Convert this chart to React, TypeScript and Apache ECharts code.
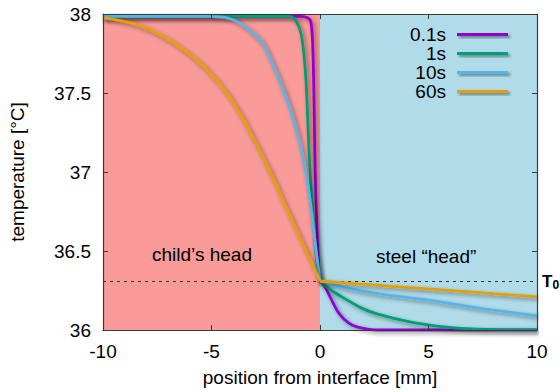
import React, { useEffect, useRef } from 'react';
import * as echarts from 'echarts';

// ---- data ----
const seriesNames = ['0.1s', '1s', '10s', '60s'];

const x01 = [-10, -0.9, -0.55, -0.42, -0.34, -0.28, -0.22, -0.13, -0.05, 0, 0.2, 0.5, 0.8, 1.1, 1.5, 2.0, 2.6, 10];
const y01 = [37.985, 37.985, 37.975, 37.95, 37.82, 37.5, 37.0, 36.6, 36.38, 36.31, 36.28, 36.2, 36.12, 36.07, 36.03, 36.01, 36.0, 36.0];

const x1 = [-10, -1.4, -1.08, -0.85, -0.66, -0.5, -0.35, -0.2, 0, 0.53, 1.13, 1.9, 2.66, 4.19, 5.71, 7.24, 10];
const y1 = [37.985, 37.985, 37.95, 37.86, 37.61, 37.12, 36.78, 36.5, 36.31, 36.25, 36.2, 36.14, 36.1, 36.05, 36.02, 36.005, 36.0];

const x10 = [-10, -5.2, -4.13, -3.36, -2.68, -2.3, -1.61, -1.0, -0.54, -0.16, 0, 1.13, 2.66, 4.95, 7.24, 10];
const y10 = [37.985, 37.985, 37.97, 37.91, 37.82, 37.72, 37.49, 37.22, 36.9, 36.48, 36.31, 36.27, 36.23, 36.19, 36.14, 36.09];

const x60 = [-10, -8.5, -7, -5.7, -4.7, -3.9, -3.14, -2.37, -1.61, -0.85, 0, 2, 5, 7.5, 10];
const y60 = [37.975, 37.935, 37.84, 37.71, 37.57, 37.42, 37.23, 37.02, 36.79, 36.56, 36.31, 36.29, 36.26, 36.235, 36.21];

const xValues = [x01, x1, x10, x60];
const yValues = [y01, y1, y10, y60];

const T0 = 36.31;
const xRange = [-10, 10];
const yRange = [36, 38];
const regionLabels = ['child\u2019s head', 'steel \u201chead\u201d'];

// ---- styles ----
const lineColors = ['#9400d3', '#009e73', '#56b4e9', '#e69f00'];
const FONT = '"Liberation Sans", Arial, Helvetica, sans-serif';
const AXIS_COLOR = '#3a3a3a';

export default function App() {
  const ref = useRef<HTMLDivElement>(null);

  useEffect(() => {
    if (!ref.current) return;
    const chart = echarts.init(ref.current, undefined, { renderer: 'svg' });

    const shadow = {
      shadowColor: 'rgba(0,0,0,0.45)',
      shadowBlur: 4,
      shadowOffsetX: 2,
      shadowOffsetY: 2,
    };

    const lineSeries: any[] = [];
    seriesNames.forEach((name, i) => {
      const pts = xValues[i].map((x, j) => [x, yValues[i][j]]);
      const left = pts.filter((p) => p[0] <= 0);
      const right = pts.filter((p) => p[0] >= 0);
      [left, right].forEach((part) => {
        lineSeries.push({
          name,
          type: 'line',
          data: part,
          color: lineColors[i],
          showSymbol: false,
          smooth: 0.3,
          clip: false,
          z: 3,
          lineStyle: { width: 2.8, color: lineColors[i], ...shadow },
        });
      });
    });

    const axisCommon = {
      type: 'value' as const,
      z: 10,
      axisLine: { show: true, onZero: false, lineStyle: { color: AXIS_COLOR, width: 1.2 } },
      axisTick: { show: true, inside: true, length: 5, lineStyle: { color: AXIS_COLOR } },
      splitLine: { show: false },
    };

    chart.setOption({
      animation: false,
      backgroundColor: '#ffffff',
      grid: { left: 100, right: 23, top: 14, bottom: 59 },
      textStyle: { fontFamily: FONT },
      legend: {
        orient: 'vertical',
        right: 47,
        top: 20,
        align: 'right',
        icon: 'rect',
        itemWidth: 51,
        itemHeight: 3,
        itemGap: 0,
        data: seriesNames,
        textStyle: { fontFamily: FONT, fontSize: 19, color: '#000', lineHeight: 19, padding: [0, 6, 0, 0] },
        itemStyle: { ...shadow, shadowBlur: 3 },
      },
      xAxis: [
        {
          ...axisCommon,
          min: xRange[0],
          max: xRange[1],
          interval: 5,
          position: 'bottom',
          name: 'position from interface [mm]',
          nameLocation: 'middle',
          nameGap: 38,
          nameTextStyle: { fontFamily: FONT, fontSize: 19, color: '#000' },
          axisLabel: { fontFamily: FONT, fontSize: 19, color: '#000', margin: 12 },
        },
        {
          ...axisCommon,
          min: xRange[0],
          max: xRange[1],
          interval: 5,
          position: 'top',
          axisLabel: { show: false },
        },
      ],
      yAxis: [
        {
          ...axisCommon,
          min: yRange[0],
          max: yRange[1],
          interval: 0.5,
          position: 'left',
          name: 'temperature [\u00b0C]',
          nameLocation: 'middle',
          nameGap: 76,
          nameTextStyle: { fontFamily: FONT, fontSize: 19, color: '#000' },
          axisLabel: { fontFamily: FONT, fontSize: 19, color: '#000', margin: 12 },
        },
        {
          ...axisCommon,
          min: yRange[0],
          max: yRange[1],
          interval: 0.5,
          position: 'right',
          axisLabel: { show: false },
        },
      ],
      series: [
        {
          type: 'line',
          data: [],
          z: 1,
          silent: true,
          markArea: {
            silent: true,
            z: 1,
            data: [
              [
                { xAxis: xRange[0], itemStyle: { color: '#f99b98' } },
                { xAxis: 0 },
              ],
              [
                { xAxis: 0, itemStyle: { color: '#b0dcea' } },
                { xAxis: xRange[1] },
              ],
            ],
          },
          markLine: {
            silent: true,
            symbol: 'none',
            z: 2,
            lineStyle: { color: '#333', type: [3, 4], width: 1 },
            label: {
              show: true,
              position: 'end',
              distance: 5,
              formatter: '{t|T}{s|0}',
              rich: {
                t: { fontFamily: FONT, fontSize: 17, fontWeight: 'bold', color: '#000' },
                s: { fontFamily: FONT, fontSize: 12, fontWeight: 'bold', color: '#000', padding: [8, 0, 0, 0] },
              },
            },
            data: [{ yAxis: T0 }],
          },
        },
        ...lineSeries,
      ],
      graphic: [
        {
          type: 'text',
          left: 152,
          top: 245,
          z: 5,
          style: { text: regionLabels[0], font: `19px ${FONT}`, fill: '#000' },
        },
        {
          type: 'text',
          left: 376,
          top: 247,
          z: 5,
          style: { text: regionLabels[1], font: `19px ${FONT}`, fill: '#000' },
        },
      ],
    });

    return () => chart.dispose();
  }, []);

  return (
    <div
      ref={ref}
      style={{ position: 'fixed', left: 0, top: 0, width: 560, height: 392 }}
    />
  );
}
